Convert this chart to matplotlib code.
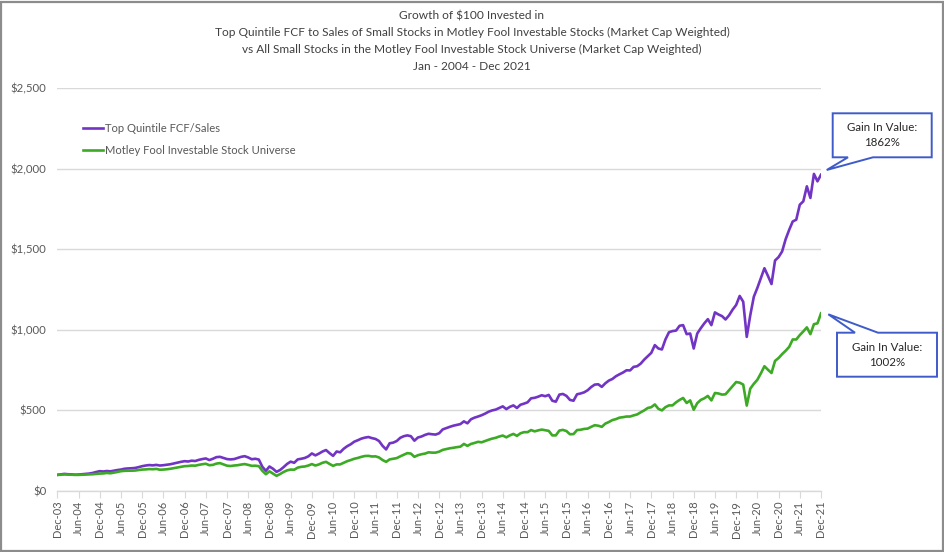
import matplotlib
matplotlib.use("Agg")
import matplotlib.pyplot as plt
from matplotlib.patches import Polygon, Rectangle

# ---------------- data ----------------
tick_labels = ["Dec-03", "Jun-04", "Dec-04", "Jun-05", "Dec-05", "Jun-06", "Dec-06",
               "Jun-07", "Dec-07", "Jun-08", "Dec-08", "Jun-09", "Dec-09", "Jun-10",
               "Dec-10", "Jun-11", "Dec-11", "Jun-12", "Dec-12", "Jun-13", "Dec-13",
               "Jun-14", "Dec-14", "Jun-15", "Dec-15", "Jun-16", "Dec-16", "Jun-17",
               "Dec-17", "Jun-18", "Dec-18", "Jun-19", "Dec-19", "Jun-20", "Dec-20",
               "Jun-21", "Dec-21"]

series_names = ["Top Quintile FCF/Sales", "Motley Fool Investable Stock Universe"]

# monthly values, Dec-03 .. Dec-21
top_quintile = [100,
    103, 106, 104, 103, 101, 102, 104, 106, 108, 112, 118, 123,
    121, 124, 122, 126, 130, 133, 138, 140, 141, 143, 148, 154,
    158, 161, 159, 162, 158, 160, 163, 166, 171, 176, 181, 185,
    183, 188, 186, 193, 198, 202, 192, 200, 210, 212, 205, 198,
    196, 198, 205, 212, 216, 208, 197, 200, 195, 150, 125, 152,
    138, 119, 130, 148, 168, 182, 175, 196, 200, 205, 215, 233,
    221, 232, 245, 254, 235, 218, 245, 240, 262, 278, 290, 306,
    315, 325, 331, 335, 328, 323, 310, 280, 258, 296, 300, 310,
    330, 340, 345, 340, 312, 332, 338, 348, 355, 352, 350, 358,
    382, 390, 398, 405, 410, 415, 432, 420, 445, 455, 462, 470,
    480, 492, 500, 505, 515, 525, 508, 522, 531, 515, 535, 542,
    550, 575, 578, 585, 594, 588, 596, 560, 554, 598, 602, 590,
    565, 560, 600, 605, 612, 625, 645, 660, 662, 646, 668, 685,
    695, 712, 724, 735, 749, 748, 770, 774, 790, 815, 836, 857,
    905, 884, 878, 940, 985, 992, 995, 1025, 1029, 973, 977, 884,
    977, 1010, 1040, 1066, 1029, 1108, 1095, 1085, 1064, 1090, 1125, 1154,
    1210, 1174, 956, 1091, 1205, 1260, 1320, 1382, 1334, 1284, 1430, 1451,
    1486, 1562, 1620, 1672, 1683, 1776, 1797, 1890, 1818, 1967, 1921, 1962]

universe = [100,
    101, 103, 102, 101, 100, 100, 101, 102, 103, 104, 106, 108,
    109, 112, 110, 114, 118, 123, 125, 126, 126, 127, 130, 133,
    134, 136, 135, 137, 132, 133, 135, 138, 142, 146, 150, 154,
    155, 158, 157, 162, 166, 169, 160, 162, 170, 173, 165, 157,
    155, 158, 160, 164, 167, 162, 156, 157, 154, 125, 104, 122,
    108, 94, 105, 118, 128, 133, 132, 145, 150, 152, 158, 167,
    158, 165, 175, 181, 168, 156, 165, 165, 175, 185, 192, 200,
    205, 212, 217, 218, 214, 215, 208, 192, 181, 196, 200, 204,
    215, 225, 235, 232, 212, 222, 228, 232, 240, 238, 238, 244,
    255, 260, 265, 268, 272, 275, 292, 280, 292, 298, 305, 302,
    310, 318, 325, 330, 338, 344, 333, 345, 354, 342, 358, 365,
    365, 378, 370, 376, 381, 377, 373, 345, 345, 375, 379, 372,
    352, 353, 378, 380, 385, 387, 398, 408, 405, 398, 418, 428,
    440, 446, 455, 458, 462, 462, 469, 475, 488, 500, 515, 520,
    537, 510, 500, 520, 531, 531, 550, 565, 577, 546, 562, 504,
    545, 565, 575, 590, 562, 608, 605, 598, 600, 625, 650, 676,
    672, 660, 530, 635, 665, 690, 730, 774, 752, 732, 807, 825,
    849, 870, 894, 940, 940, 967, 990, 1015, 973, 1035, 1040, 1102]

gains = ["1862%", "1002%"]
y_ticks = [0, 500, 1000, 1500, 2000, 2500]

# ---------------- style ----------------
W, H = 945, 552
FONT = ["Liberation Sans Narrow", "Lato", "DejaVu Sans"]
plt.rcParams["font.family"] = FONT
PURPLE = "#7234C4"
GREEN = "#3CAA24"
TXT = "#595959"
GRID = "#D9D9D9"

fig = plt.figure(figsize=(W / 100, H / 100), dpi=100)
fig.patch.set_facecolor("white")

def fx(px):
    return px / W

def fy(py):
    return 1 - py / H

ax = fig.add_axes([fx(57.3), fy(491), fx(821) - fx(57.3), fy(88) - fy(491)])

x = list(range(len(top_quintile)))
ax.plot(x, top_quintile, color=PURPLE, lw=1.9, label=series_names[0], solid_joinstyle="round")
ax.plot(x, universe, color=GREEN, lw=1.9, label=series_names[1], solid_joinstyle="round")

ax.set_xlim(0, len(top_quintile) - 1)
ax.set_ylim(0, 2500)
ax.set_yticks(y_ticks)
ax.set_yticklabels([r"\$" + f"{v:,}" for v in y_ticks])
ax.set_xticks(list(range(0, len(top_quintile), 6)))
ax.set_xticklabels(tick_labels, rotation=90)

ax.grid(axis="y", color=GRID, lw=1.0)
ax.set_axisbelow(True)
for s in ["top", "right", "left"]:
    ax.spines[s].set_visible(False)
ax.spines["bottom"].set_color(GRID)
ax.spines["bottom"].set_linewidth(1.0)
ax.tick_params(axis="y", length=0, pad=8, labelsize=8.2, labelcolor=TXT)
ax.tick_params(axis="x", length=5, width=0.8, color=GRID, direction="out",
               pad=2, labelsize=8, labelcolor=TXT)

leg = ax.legend(loc="upper left", bbox_to_anchor=(fx(84) - fx(57.3), 1 - (118 - 88) / (491 - 88)),
                bbox_transform=ax.transAxes, frameon=False, handlelength=1.75,
                handletextpad=0.2, labelspacing=1.05, fontsize=8.1, borderaxespad=0)
for t in leg.get_texts():
    t.set_color(TXT)

# title
title_lines = ["Growth of \\$100 Invested in",
               "Top Quintile FCF to Sales of Small Stocks in Motley Fool Investable Stocks (Market Cap Weighted)",
               "vs All Small Stocks in the Motley Fool Investable Stock Universe (Market Cap Weighted)",
               "Jan - 2004 - Dec 2021"]
for i, line in enumerate(title_lines):
    fig.text(fx(472), fy(16 + i * 16.7), line, ha="center", va="center",
             fontsize=8.6, color="#404040")

# callouts
BLUE = "#3F5BC9"
c1 = [(832.7, 113.3), (931.7, 113.3), (931.7, 157.3), (873, 157.3),
      (826.7, 170), (848, 157.3), (832.7, 157.3)]
c2 = [(837, 332.7), (855, 332.7), (828.3, 314.3), (878, 332.7),
      (937, 332.7), (937, 376.7), (837, 376.7)]
for pts in (c1, c2):
    fig.patches.append(Polygon([(fx(a), fy(b)) for a, b in pts], closed=True,
                               transform=fig.transFigure, facecolor="white",
                               edgecolor=BLUE, lw=1.4, zorder=5))
fig.text(fx(882), fy(135), "Gain In Value:\n" + gains[0], ha="center", va="center",
         fontsize=8.3, color="#262626", linespacing=1.5, zorder=6)
fig.text(fx(887), fy(355), "Gain In Value:\n" + gains[1], ha="center", va="center",
         fontsize=8.3, color="#262626", linespacing=1.5, zorder=6)

# outer border
fig.patches.append(Rectangle((0.001, 0.002), 0.997, 0.995, transform=fig.transFigure,
                             fill=False, edgecolor="#8C8C8C", lw=1.6, zorder=10))

fig.savefig("out.png", dpi=100)
